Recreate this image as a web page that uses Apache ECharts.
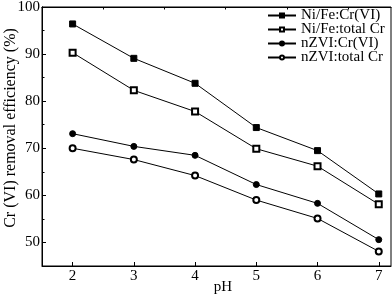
<!DOCTYPE html>
<html><head><meta charset="utf-8">
<script src="https://cdn.jsdelivr.net/npm/echarts@6/dist/echarts.min.js"></script>
<style>html,body{margin:0;padding:0;background:#fff}#c{width:392px;height:296px}</style>
</head><body><div id="c"></div>
<script>
const pH = [2, 3, 4, 5, 6, 7];
const niFeCr6 = [96.4, 89.1, 83.8, 74.4, 69.5, 60.3];
const niFeTotal = [90.3, 82.3, 77.8, 69.9, 66.2, 58.1];
const nzviCr6 = [73.1, 70.4, 68.5, 62.3, 58.3, 50.6];
const nzviTotal = [70.0, 67.6, 64.2, 59.0, 55.1, 48.1];
const yMajor = [50, 60, 70, 80, 90, 100];
const yMinor = [45, 55, 65, 75, 85, 95];
const xMajor = [2, 3, 4, 5, 6, 7];
const xMinor = [2.5, 3.5, 4.5, 5.5, 6.5];
const names = ['Ni/Fe:Cr(VI)', 'Ni/Fe:total Cr', 'nZVI:Cr(VI)', 'nZVI:total Cr'];
const symbols = ['rect', 'emptyRect', 'circle', 'emptyCircle'];
const allData = [niFeCr6, niFeTotal, nzviCr6, nzviTotal];

const font = 'Liberation Serif, Times New Roman, serif';
const chart = echarts.init(document.getElementById('c'), null, {renderer: 'canvas'});
const baseX = {
  type: 'value', min: 1.5, max: 7.2, gridIndex: 0,
  axisLine: {show: true, lineStyle: {color: '#000', width: 1}},
  splitLine: {show: false}
};
const baseY = {
  type: 'value', min: 45, max: 100, gridIndex: 0,
  axisLine: {show: true, lineStyle: {color: '#000', width: 1}},
  splitLine: {show: false}
};
chart.setOption({
  animation: false,
  backgroundColor: '#fff',
  grid: {left: 42, right: 1, top: 7, bottom: 30, show: true, borderColor: '#000', borderWidth: 1,
         containLabel: false, outerBoundsMode: 'none'},
  legend: {
    data: names.map(n => ({name: n})),
    orient: 'vertical', left: 267, top: 8, padding: 0,
    itemWidth: 28, itemHeight: 5, itemGap: -1,
    textStyle: {fontFamily: font, fontSize: 15, color: '#000', lineHeight: 12}
  },
  xAxis: [
    Object.assign({}, baseX, {
      name: 'pH', nameLocation: 'middle', nameGap: 14, nameMoveOverlap: false,
      nameTextStyle: {fontFamily: font, fontSize: 15, color: '#000', padding: [0,0,0,13]},
      axisTick: {show: true, inside: true, length: 4, lineStyle: {color: '#000'}, customValues: xMajor},
      axisLabel: {show: true, fontFamily: font, fontSize: 15, color: '#000', margin: 3, customValues: xMajor}
    }),
    Object.assign({}, baseX, {
      axisTick: {show: true, inside: true, length: 2.5, lineStyle: {color: '#000'}, customValues: xMinor},
      axisLabel: {show: false}
    })
  ],
  yAxis: [
    Object.assign({}, baseY, {
      name: 'Cr (VI) removal efficiency (%)', nameLocation: 'middle', nameGap: 23, nameMoveOverlap: false,
      nameTextStyle: {fontFamily: font, fontSize: 16, color: '#000', padding: [0,0,0,17]},
      axisTick: {show: true, inside: true, length: 4, lineStyle: {color: '#000'}, customValues: yMajor},
      axisLabel: {show: true, fontFamily: font, fontSize: 15, color: '#000', margin: 2, customValues: yMajor}
    }),
    Object.assign({}, baseY, {
      position: 'left',
      axisTick: {show: true, inside: true, length: 2.5, lineStyle: {color: '#000'}, customValues: yMinor},
      axisLabel: {show: false}
    })
  ],
  series: names.map((n, i) => ({
    name: n, type: 'line',
    xAxisIndex: 0, yAxisIndex: 0,
    data: pH.map((x, j) => [x, allData[i][j]]),
    symbol: symbols[i], symbolSize: 6,
    lineStyle: {color: '#000', width: 1},
    itemStyle: {color: '#000', borderColor: '#000', borderWidth: 1},
    emphasis: {disabled: true}
  }))
});
</script></body></html>
